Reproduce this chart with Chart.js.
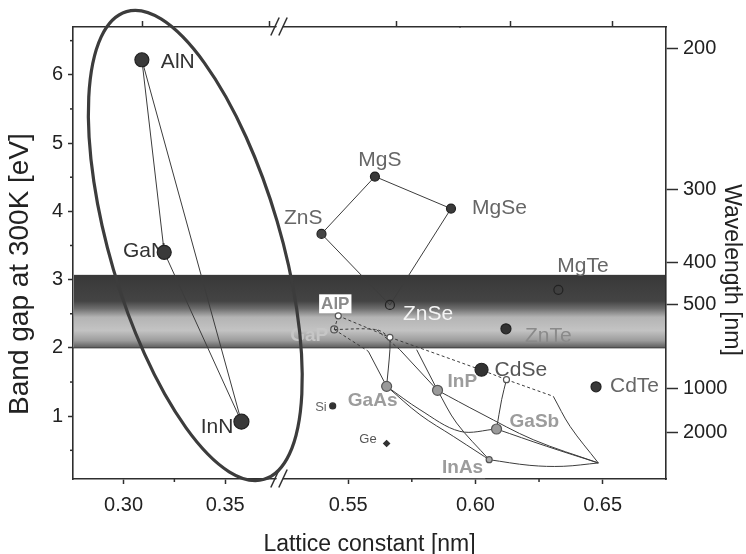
<!DOCTYPE html>
<html><head><meta charset="utf-8">
<script src="https://cdn.jsdelivr.net/npm/chart.js@4.4.0/dist/chart.umd.min.js"></script>
<style>html,body{margin:0;padding:0;background:#fff;}#wrap{width:746px;height:554px;position:relative;}</style>
</head><body><div id="wrap"><canvas id="c" width="746" height="554"></canvas></div>
<script>
// ================= DATA =================
// Nitrides (left axis segment)
const nitrideNames   = ['AlN', 'GaN', 'InN'];
const nitrideLattice = [0.309, 0.320, 0.358];
const nitrideGap     = [6.22, 3.40, 0.92];

// II-VI compounds (right axis segment)
const iiviNames   = ['MgS', 'MgSe', 'ZnS', 'ZnSe', 'MgTe', 'ZnTe', 'CdSe', 'CdTe'];
const iiviLattice = [0.5605, 0.5904, 0.5395, 0.5664, 0.6326, 0.6120, 0.6024, 0.6474];
const iiviGap     = [4.51, 4.04, 3.67, 2.63, 2.85, 2.28, 1.68, 1.43];

// Group IV
const ivNames   = ['Si', 'Ge'];
const ivLattice = [0.5439, 0.5651];
const ivGap     = [1.15, 0.60];

// III-V compounds
const iiivNames   = ['AlP', 'GaP', 'AlAs', 'AlSb', 'GaAs', 'InP', 'GaSb', 'InAs', 'InSb'];
const iiivLattice = [0.5461, 0.5445, 0.5664, 0.6122, 0.5651, 0.5851, 0.6083, 0.6054, 0.6483];
const iiivGap     = [2.47, 2.27, 2.155, 1.535, 1.437, 1.379, 0.812, 0.363, 0.315];

// tie lines [lattice, gap]
const tieAlNGaN = [[0.309, 6.22], [0.320, 3.40]];
const tieAlNInN = [[0.309, 6.22], [0.358, 0.92]];
const tieGaNInN = [[0.320, 3.40], [0.358, 0.92]];

const tieZnSMgS   = [[0.5395, 3.67], [0.5605, 4.51]];
const tieMgSMgSe  = [[0.5605, 4.51], [0.5904, 4.04]];
const tieMgSeZnSe = [[0.5904, 4.04], [0.5664, 2.63]];
const tieZnSZnSe  = [[0.5395, 3.67], [0.5664, 2.63]];

// indirect (dashed) III-V
const dashAlPGaP   = [[0.5461, 2.47], [0.5445, 2.27]];
const dashAlPAlAs  = [[0.5461, 2.47], [0.5664, 2.155]];
const dashGaPAlAs  = [[0.5445, 2.27], [0.5611, 2.267], [0.5664, 2.155]];
const dashAlAsAlSb = [[0.5664, 2.155], [0.6024, 1.675], [0.6122, 1.535]];
const dashAlSbInSb = [[0.6122, 1.535], [0.6306, 1.291]];
const dashGaPGaAs  = [[0.5445, 2.27], [0.5579, 1.95]];
const dashGaPInP   = [[0.5611, 2.267], [0.5703, 1.974]];

// direct (solid) III-V
const solGaPGaAs   = [[0.5579, 1.95], [0.5651, 1.437]];
const solAlAsGaAs  = [[0.5664, 2.155], [0.5664, 1.974], [0.5651, 1.437]];
const solAlSbInSb  = [[0.6306, 1.291], [0.6372, 0.851], [0.6483, 0.315]];
const solAlSbGaSb  = [[0.6122, 1.535], [0.6103, 1.242], [0.6083, 0.812]];
const solGaAsInAs  = [[0.5651, 1.437], [0.5782, 1.022], [0.5913, 0.705], [0.6018, 0.451], [0.6054, 0.363]];
const solGaAsGaSb  = [[0.5651, 1.437], [0.5782, 1.095], [0.5939, 0.778], [0.6083, 0.812]];
const solInPInAs   = [[0.5851, 1.379], [0.5926, 0.900], [0.6054, 0.363]];
const solInPInSb   = [[0.5851, 1.379], [0.6018, 1.047], [0.6227, 0.656], [0.6483, 0.315]];
const solGaSbInSb  = [[0.6083, 0.812], [0.6280, 0.559], [0.6483, 0.315]];
const solInAsInSb  = [[0.6054, 0.363], [0.6214, 0.280], [0.6345, 0.266], [0.6483, 0.315]];
const solGaPInP    = [[0.5703, 1.974], [0.5851, 1.379]];
const solAlAsInP   = [[0.5769, 1.974], [0.5851, 1.379]];

// axis ticks
const xTicksLeft  = [0.30, 0.35];
const xTicksRight = [0.55, 0.60, 0.65];
const xMinorLeft  = [0.325];
const xMinorRight = [0.575, 0.625];
const yTicks      = [1, 2, 3, 4, 5, 6];
const yMinor      = [0.5, 1.5, 2.5, 3.5, 4.5, 5.5, 6.5];
const wavelengthLabels = [200, 300, 400, 500, 1000, 2000];
const wavelengthAtGap  = [6.39, 4.32, 3.25, 2.63, 1.40, 0.76];

// visible band (eV)
const visibleTop = 3.07, visibleBottom = 2.0;

// axis titles
const xTitle = 'Lattice constant [nm]';
const yTitle = 'Band gap at 300K [eV]';
const y2Title = 'Wavelength [nm]';

// ================= STYLE =================
const FONT = "'Liberation Sans', Arial, Helvetica, sans-serif";
const AX = '#2e2e2e';
const markerStyle = {
  AlN:{r:7, fill:'#3a3a3a', line:'#222'}, GaN:{r:7, fill:'#3a3a3a', line:'#222'}, InN:{r:7.5, fill:'#3a3a3a', line:'#222'},
  MgS:{r:4.5, fill:'#3a3a3a', line:'#222'}, MgSe:{r:4.5, fill:'#3a3a3a', line:'#222'}, ZnS:{r:4.5, fill:'#444', line:'#222'},
  ZnSe:{r:4.5, fill:'rgba(0,0,0,0)', line:'#222'}, MgTe:{r:4.5, fill:'rgba(0,0,0,0)', line:'#222'},
  ZnTe:{r:5, fill:'#333', line:'#222'}, CdSe:{r:6.5, fill:'#333', line:'#222'}, CdTe:{r:5, fill:'#3a3a3a', line:'#222'},
  Si:{r:3, fill:'#333', line:'#333'}, Ge:{r:3, fill:'#333', line:'#333', style:'rectRot'},
  AlP:{r:3, fill:'#fff', line:'#555'}, GaP:{r:3.5, fill:'rgba(0,0,0,0)', line:'#555'}, AlAs:{r:3, fill:'#fff', line:'#555'},
  AlSb:{r:3, fill:'#fff', line:'#555'}, GaAs:{r:5, fill:'#9a9a9a', line:'#555'}, InP:{r:5, fill:'#9a9a9a', line:'#555'},
  GaSb:{r:5, fill:'#9a9a9a', line:'#555'}, InAs:{r:3, fill:'#aaa', line:'#555'}, InSb:{r:0, fill:'#aaa', line:'#555'}
};
// label placement relative to the marker (px)
const labelStyle = {
  AlN:{dx:19, dy:2, align:'left', color:'#333'},
  GaN:{dx:2, dy:-1, align:'right', color:'#333'},
  InN:{dx:-8, dy:6, align:'right', color:'#333'},
  MgS:{dx:5, dy:-16, align:'center', color:'#666'},
  MgSe:{dx:21, dy:0, align:'left', color:'#666'},
  ZnS:{dx:1, dy:-16, align:'right', color:'#666'},
  ZnSe:{dx:13, dy:9, align:'left', color:'#f4f4f4'},
  MgTe:{dx:-1, dy:-24, align:'left', color:'#666'},
  ZnTe:{dx:19, dy:7, align:'left', color:'#8a8a8a'},
  CdSe:{dx:13, dy:0, align:'left', color:'#555'},
  CdTe:{dx:14, dy:-1, align:'left', color:'#666'},
  Si:{dx:-6, dy:1, align:'right', color:'#666', size:13},
  Ge:{dx:-10, dy:-4, align:'right', color:'#555', size:13},
  AlP:{dx:-3, dy:-12, align:'center', color:'#8a8a8a', bold:true, size:17, box:true},
  GaP:{dx:-6, dy:6, align:'right', color:'#c6c6c6', bold:true, size:19},
  GaAs:{dx:-14, dy:14, align:'center', color:'#9c9c9c', bold:true, size:19},
  InP:{dx:10, dy:-9, align:'left', color:'#9c9c9c', bold:true, size:19},
  GaSb:{dx:13, dy:-7, align:'left', color:'#9c9c9c', bold:true, size:19},
  InAs:{dx:-6, dy:8, align:'right', color:'#9c9c9c', bold:true, size:19, box:true}
};

// ================= BUILD =================
const datasets = [];
function pairPts(arr){ return arr.map(p => ({x:p[0], y:p[1]})); }
function addLine(arr, xAxisID, dashed, width){
  datasets.push({data: pairPts(arr), xAxisID, yAxisID:'y', showLine:true, borderColor:'#3c3c3c',
    borderWidth: width || 1, borderDash: dashed ? [3, 2.5] : [], pointRadius:0, pointHoverRadius:0,
    tension: arr.length > 2 ? 0.35 : 0, fill:false, order:3});
}
function addPoints(names, lat, gap, xAxisID){
  names.forEach((n, i) => {
    const s = markerStyle[n];
    datasets.push({label:n, data:[{x:lat[i], y:gap[i]}], xAxisID, yAxisID:'y',
      pointRadius:s.r, pointHoverRadius:s.r, pointBackgroundColor:s.fill, pointBorderColor:s.line,
      pointBorderWidth:1.2, pointStyle:s.style || 'circle', order:1});
  });
}
[tieAlNGaN, tieAlNInN, tieGaNInN].forEach(a => addLine(a, 'x1', false, 1));
[tieZnSMgS, tieMgSMgSe, tieMgSeZnSe, tieZnSZnSe].forEach(a => addLine(a, 'x2', false, 1));
[dashAlPGaP, dashAlPAlAs, dashGaPAlAs, dashAlAsAlSb, dashAlSbInSb, dashGaPGaAs, dashGaPInP].forEach(a => addLine(a, 'x2', true, 1));
[solGaPGaAs, solAlAsGaAs, solAlSbInSb, solAlSbGaSb, solGaAsInAs, solGaAsGaSb, solInPInAs, solInPInSb,
 solGaSbInSb, solInAsInSb, solGaPInP, solAlAsInP].forEach(a => addLine(a, 'x2', false, 1));
addPoints(nitrideNames, nitrideLattice, nitrideGap, 'x1');
addPoints(iiviNames, iiviLattice, iiviGap, 'x2');
addPoints(ivNames, ivLattice, ivGap, 'x2');
addPoints(iiivNames, iiivLattice, iiivGap, 'x2');

// ellipse around nitrides (data units)
const ellipseCenter = {a:0.3353, e:3.50};
const ellipseHalfA = 0.0420, ellipseHalfE = 3.57, ellipseTiltDeg = -16.4;

const commonX = (min, max, weight, ticks, pos, stack) => ({
  type:'linear', position:pos, stack:stack, stackWeight:weight, min:min, max:max,
  afterBuildTicks: s => { s.ticks = ticks.map(v => ({value:v})); },
  afterFit: s => { s.height = pos === 'bottom' ? 75 : 27; },
  grid:{drawOnChartArea:false, drawTicks:true, tickLength: pos === 'bottom' ? 5 : 6, tickColor:AX, tickWidth:1.5},
  border:{display:true, color:AX, width:1.6},
  ticks:{display: pos === 'bottom', font:{family:FONT, size:20}, color:'#222', padding:9, maxRotation:0,
         autoSkip:false, callback: v => Number(v).toFixed(2)}
});

const plugin = {
  id:'decor',
  beforeDatasetsDraw(chart){
    const c = chart.ctx, ca = chart.chartArea, y = chart.scales.y;
    const yt = y.getPixelForValue(visibleTop), yb = y.getPixelForValue(visibleBottom);
    const g = c.createLinearGradient(0, yt, 0, yb);
    g.addColorStop(0, '#383838'); g.addColorStop(0.36, '#444'); g.addColorStop(0.46, '#6c6c6c');
    g.addColorStop(0.58, '#b4b4b4'); g.addColorStop(0.76, '#c3c3c3'); g.addColorStop(0.9, '#9c9c9c'); g.addColorStop(1, '#5c5c5c');
    c.save(); c.fillStyle = g; c.fillRect(ca.left + 1, yt, ca.right - ca.left - 2, yb - yt);
    c.strokeStyle = 'rgba(40,40,40,0.8)'; c.lineWidth = 1; c.beginPath(); c.moveTo(ca.left, yb); c.lineTo(ca.right, yb); c.stroke();
    c.restore();
    // labels
    chart.data.datasets.forEach((ds, i) => {
      if (!ds.label || !labelStyle[ds.label]) return;
      const st = labelStyle[ds.label];
      const el = chart.getDatasetMeta(i).data[0];
      const size = st.size || 21;
      c.save();
      c.font = (st.bold ? 'bold ' : '') + size + 'px ' + FONT;
      c.textAlign = st.align; c.textBaseline = 'middle';
      const x = el.x + st.dx, yy = el.y + st.dy;
      if (st.box) {
        const w = c.measureText(ds.label).width;
        let x0 = st.align === 'center' ? x - w/2 : (st.align === 'right' ? x - w : x);
        c.fillStyle = '#fff'; c.fillRect(x0 - 2, yy - size/2 - 1, w + 4, size + 2);
      }
      c.fillStyle = st.color; c.fillText(ds.label, x, yy);
      c.restore();
    });
  },
  afterDraw(chart){
    const c = chart.ctx, ca = chart.chartArea, s = chart.scales;
    c.save();
    // minor ticks
    c.strokeStyle = AX; c.lineWidth = 1.5;
    yMinor.forEach(v => { const py = s.y.getPixelForValue(v); c.beginPath(); c.moveTo(ca.left, py); c.lineTo(ca.left - 3, py); c.stroke(); });
    xMinorLeft.forEach(v => { const px = s.x1.getPixelForValue(v); c.beginPath(); c.moveTo(px, ca.bottom); c.lineTo(px, ca.bottom + 3); c.stroke(); });
    xMinorRight.forEach(v => { const px = s.x2.getPixelForValue(v); c.beginPath(); c.moveTo(px, ca.bottom); c.lineTo(px, ca.bottom + 3); c.stroke(); });
    // axis break marks
    const bx = s.x1.right;
    [ca.top, ca.bottom].forEach(ay => {
      c.fillStyle = '#fff';
      c.beginPath(); c.moveTo(bx - 4, ay + 4); c.lineTo(bx - 1, ay - 4); c.lineTo(bx + 5, ay - 4); c.lineTo(bx + 2, ay + 4); c.closePath(); c.fill();
      c.strokeStyle = AX; c.lineWidth = 1.5;
      [-4, 4].forEach(o => { c.beginPath(); c.moveTo(bx + o - 4.2, ay + 8.5); c.lineTo(bx + o + 4.2, ay - 9.5); c.stroke(); });
    });
    // ellipse
    const cx = s.x1.getPixelForValue(ellipseCenter.a), cy = s.y.getPixelForValue(ellipseCenter.e);
    const rx = Math.abs(s.x1.getPixelForValue(ellipseCenter.a + ellipseHalfA) - cx);
    const ry = Math.abs(s.y.getPixelForValue(ellipseCenter.e + ellipseHalfE) - cy);
    c.strokeStyle = '#3c3c3c'; c.lineWidth = 3.2;
    c.beginPath(); c.ellipse(cx, cy, rx, ry, ellipseTiltDeg * Math.PI / 180, 0, Math.PI * 2); c.stroke();
    // axis titles
    c.fillStyle = '#222'; c.textAlign = 'center'; c.textBaseline = 'alphabetic';
    c.font = '23px ' + FONT;
    c.fillText(xTitle, (ca.left + ca.right) / 2, ca.bottom + 72);
    c.save(); c.translate(ca.left - 45, (ca.top + ca.bottom) / 2 + 21); c.rotate(-Math.PI / 2);
    c.font = '28px ' + FONT; c.fillText(yTitle, 0, 0); c.restore();
    c.save(); c.translate(ca.right + 59, (ca.top + ca.bottom) / 2 + 17); c.rotate(Math.PI / 2);
    c.font = '23px ' + FONT; c.fillText(y2Title, 0, 0); c.restore();
    c.restore();
  }
};

new Chart(document.getElementById('c'), {
  type:'scatter',
  data:{datasets},
  options:{
    responsive:false, animation:false, devicePixelRatio:1,
    layout:{padding:0},
    plugins:{legend:{display:false}, tooltip:{enabled:false}},
    events:[],
    scales:{
      x1: commonX(0.2751, 0.3765, 206, xTicksLeft, 'bottom', 'xb'),
      x2: commonX(0.5228, 0.6749, 387, xTicksRight, 'bottom', 'xb'),
      xt1: commonX(0.2751, 0.3765, 206, xTicksLeft, 'top', 'xt'),
      xt2: commonX(0.5228, 0.6749, 387, xTicksRight, 'top', 'xt'),
      y:{type:'linear', position:'left', min:0.08, max:6.70,
         afterBuildTicks: s => { s.ticks = yTicks.map(v => ({value:v})); },
         afterFit: s => { s.width = 73; },
         grid:{drawOnChartArea:false, tickLength:5, tickColor:AX, tickWidth:1.5},
         border:{display:true, color:AX, width:1.6},
         ticks:{font:{family:FONT, size:20}, color:'#222', padding:5, autoSkip:false, callback: v => String(v)}},
      y2:{type:'linear', position:'right', min:0.08, max:6.70,
         afterBuildTicks: s => { s.ticks = wavelengthAtGap.map(v => ({value:v})); },
         afterFit: s => { s.width = 80; },
         grid:{drawOnChartArea:false, tickLength:12, tickColor:AX, tickWidth:1.5},
         border:{display:true, color:AX, width:1.6},
         ticks:{font:{family:FONT, size:20}, color:'#222', padding:5, autoSkip:false,
                callback: (v, i) => String(wavelengthLabels[i])}}
    }
  },
  plugins:[plugin]
});
</script>
</body></html>
